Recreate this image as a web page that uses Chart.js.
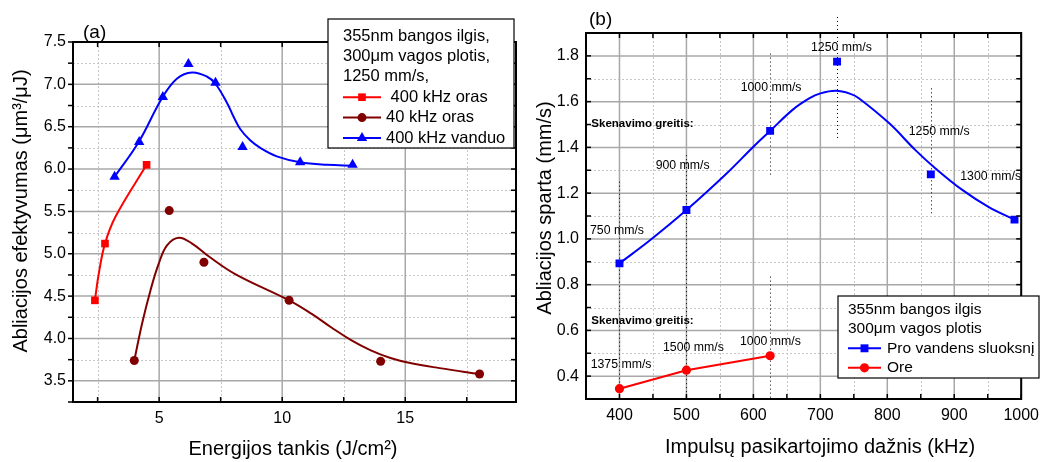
<!DOCTYPE html>
<html>
<head>
<meta charset="utf-8">
<script src="https://cdn.jsdelivr.net/npm/chart.js@4.4.0/dist/chart.umd.min.js"></script>
<style>
  html, body { margin: 0; padding: 0; background: #fff; }
  .panel { position: absolute; top: 0; height: 462px; }
  #panel-a { left: 0; width: 530px; }
  #panel-b { left: 530px; width: 516px; }
</style>
</head>
<body>
<div class="panel" id="panel-a"><canvas id="chart-a"></canvas></div>
<div class="panel" id="panel-b"><canvas id="chart-b"></canvas></div>
<script>
const FONT = "Arial, 'Liberation Sans', sans-serif";

// ---- (a) ablation efficiency vs energy density
const energyTicks = [5, 10, 15];
const energyMinor = [2.5, 7.5, 12.5, 17.5];
const effTicks = [3.5, 4.0, 4.5, 5.0, 5.5, 6.0, 6.5, 7.0, 7.5];
const effMinor = [3.25, 3.75, 4.25, 4.75, 5.25, 5.75, 6.25, 6.75, 7.25];

const seriesNamesA = [' 400 kHz oras', '40 kHz oras', '400 kHz vanduo'];
const legendNoteA = ['355nm bangos ilgis,', '300μm vagos plotis,', '1250 mm/s,'];

const air400Energy = [2.39, 2.80, 4.49];
const air400Eff = [4.45, 5.12, 6.05];
const air400FitEnergy = [2.39, 2.55, 2.80, 3.23, 4.49];
const air400FitEff = [4.45, 4.77, 5.12, 5.44, 6.05];

const air40Energy = [3.99, 5.41, 6.82, 10.28, 14.0, 18.02];
const air40Eff = [3.74, 5.51, 4.90, 4.45, 3.73, 3.58];
const air40FitEnergy = [3.99, 4.31, 4.65, 4.98, 5.32, 5.8, 6.34, 7.01, 8.09, 10.28, 11.2, 12.0, 12.8, 13.6, 14.4, 15.2, 16.4, 18.02];
const air40FitEff = [3.74, 4.18, 4.57, 4.88, 5.10, 5.19, 5.12, 4.97, 4.76, 4.45, 4.29, 4.13, 3.98, 3.86, 3.77, 3.71, 3.65, 3.58];

const water400Energy = [3.19, 4.19, 5.15, 6.19, 7.29, 8.39, 10.73, 12.86];
const water400Eff = [5.91, 6.32, 6.85, 7.24, 7.02, 6.26, 6.08, 6.05];
const water400FitEnergy = [3.19, 4.17, 5.12, 5.73, 6.34, 6.95, 7.28, 7.76, 8.02, 8.3, 8.7, 9.11, 9.78, 10.73, 11.81, 12.89];
const water400FitEff = [5.91, 6.32, 6.84, 7.07, 7.14, 7.09, 7.01, 6.78, 6.62, 6.47, 6.34, 6.25, 6.15, 6.08, 6.05, 6.04];

// ---- (b) ablation rate vs repetition rate
const freqTicks = [400, 500, 600, 700, 800, 900, 1000];
const freqMinor = [350, 450, 550, 650, 750, 850, 950];
const rateTicks = [0.4, 0.6, 0.8, 1.0, 1.2, 1.4, 1.6, 1.8];
const rateMinor = [0.3, 0.5, 0.7, 0.9, 1.1, 1.3, 1.5, 1.7, 1.9];

const seriesNamesB = ['Pro vandens sluoksnį', 'Ore'];
const legendNoteB = ['355nm bangos ilgis', '300μm vagos plotis'];

const waterFreq = [400, 500, 625, 725, 865, 990];
const waterRate = [0.893, 1.126, 1.472, 1.775, 1.282, 1.084];
const waterFitFreq = [400, 446, 500, 560, 600, 625, 659, 684, 699, 723, 745, 758, 803, 842, 872, 912, 951, 990];
const waterFitRate = [0.893, 0.995, 1.126, 1.286, 1.403, 1.472, 1.565, 1.615, 1.635, 1.647, 1.634, 1.614, 1.505, 1.388, 1.308, 1.214, 1.14, 1.084];

const airFreq = [400, 500, 625];
const airRate = [0.345, 0.426, 0.489];

// scan speed notes: text, freq, rate (left edge / middle of text)
const speedNotes = [
    ['Skenavimo greitis:', 358, 1.505, true],
    ['750 mm/s', 356, 1.035],
    ['900 mm/s', 454, 1.32],
    ['1000 mm/s', 581, 1.66],
    ['1250 mm/s', 686, 1.838],
    ['1250 mm/s', 832, 1.468],
    ['1300 mm/s', 909, 1.272],
    ['Skenavimo greitis:', 358, 0.643, true],
    ['1375 mm/s', 357, 0.449],
    ['1500 mm/s', 465, 0.524],
    ['1000 mm/s', 580, 0.551],
];
// dotted guide lines: freq, from rate, to rate
const speedGuides = [
    [400, 1.25, 0.3],
    [500, 1.366, 0.3],
    [625, 1.81, 1.27],
    [625, 0.835, 0.3],
    [725, 1.97, 1.43],
    [865, 1.658, 1.112],
];

const pts = (xs, ys) => xs.map((x, i) => ({ x, y: ys[i] }));

function seg(ctx, x0, y0, x1, y1) {
    ctx.beginPath();
    ctx.moveTo(x0, y0);
    ctx.lineTo(x1, y1);
    ctx.stroke();
}

function drawMarker(ctx, style, x, y, r, color) {
    ctx.fillStyle = color;
    ctx.beginPath();
    if (style === 'rect') {
        const s = r * Math.SQRT1_2;
        ctx.rect(x - s, y - s, 2 * s, 2 * s);
    } else if (style === 'triangle') {
        ctx.moveTo(x, y - r);
        ctx.lineTo(x + r * 0.866, y + r * 0.5);
        ctx.lineTo(x - r * 0.866, y + r * 0.5);
        ctx.closePath();
    } else {
        ctx.arc(x, y, r, 0, Math.PI * 2);
    }
    ctx.fill();
}

function drawLegend(ctx, L) {
    const [bx, by, bw, bh] = L.box;
    ctx.fillStyle = '#fff';
    ctx.fillRect(bx, by, bw, bh);
    ctx.strokeStyle = '#000';
    ctx.lineWidth = 1.2;
    ctx.strokeRect(bx, by, bw, bh);
    ctx.font = `${L.fontSize}px ${FONT}`;
    ctx.textAlign = 'left';
    ctx.textBaseline = 'middle';
    ctx.fillStyle = '#000';
    L.note.forEach((t, i) => ctx.fillText(t, L.textX, L.rowY + i * L.rowH));
    L.items.forEach((it, j) => {
        const yy = L.rowY + (L.note.length + j) * L.rowH;
        ctx.strokeStyle = it.color;
        ctx.lineWidth = 2;
        seg(ctx, L.textX, yy, L.textX + L.sampleW, yy);
        drawMarker(ctx, it.style, L.textX + L.sampleW / 2, yy, it.radius, it.color);
        ctx.fillStyle = '#000';
        ctx.fillText(it.label, L.labelX, yy);
    });
}

function panelDecor(cfg) {
    return {
        id: 'panelDecor',
        beforeDatasetsDraw(chart) {
            const { ctx, chartArea: a, scales: { x, y } } = chart;
            ctx.save();
            ctx.lineWidth = 1;
            ctx.strokeStyle = '#c6c6c6';
            ctx.setLineDash([2, 2]);
            cfg.xMinor.forEach((v) => { const p = Math.round(x.getPixelForValue(v)) + 0.5; seg(ctx, p, a.top, p, a.bottom); });
            cfg.yMinor.forEach((v) => { const p = Math.round(y.getPixelForValue(v)) + 0.5; seg(ctx, a.left, p, a.right, p); });
            ctx.setLineDash([]);
            ctx.strokeStyle = '#a8a8a8';
            ctx.lineWidth = 1.5;
            cfg.xMajor.forEach((v) => { const p = x.getPixelForValue(v); seg(ctx, p, a.top, p, a.bottom); });
            cfg.yMajor.forEach((v) => { const p = y.getPixelForValue(v); seg(ctx, a.left, p, a.right, p); });
            if (cfg.guides) {
                ctx.strokeStyle = '#000';
                ctx.lineWidth = 1;
                ctx.setLineDash([1, 3]);
                cfg.guides.forEach(([f, r0, r1]) => {
                    const p = Math.round(x.getPixelForValue(f)) + 0.5;
                    seg(ctx, p, y.getPixelForValue(r0), p, y.getPixelForValue(r1));
                });
                ctx.setLineDash([]);
            }
            ctx.restore();
        },
        afterDatasetsDraw(chart) {
            const { ctx, chartArea: a, scales: { x, y } } = chart;
            ctx.save();
            // frame + ticks
            ctx.strokeStyle = '#000';
            ctx.lineWidth = 2;
            ctx.strokeRect(a.left, a.top, a.right - a.left, a.bottom - a.top);
            ctx.lineWidth = 1.5;
            const tl = 5;
            [...cfg.xMajor, ...cfg.xMinor].forEach((v) => {
                const p = x.getPixelForValue(v);
                seg(ctx, p, a.bottom, p, a.bottom - tl);
                seg(ctx, p, a.top, p, a.top + tl);
            });
            [...cfg.yMajor, ...cfg.yMinor].forEach((v) => {
                const p = y.getPixelForValue(v);
                seg(ctx, a.right, p, a.right - tl, p);
                if (cfg.leftOut) seg(ctx, a.left, p, a.left - tl, p);
                else seg(ctx, a.left, p, a.left + tl, p);
            });
            // notes
            if (cfg.notes) {
                ctx.fillStyle = '#000';
                ctx.textAlign = 'left';
                ctx.textBaseline = 'middle';
                cfg.notes.forEach(([t, f, r, bold]) => {
                    ctx.font = bold ? `bold 11.5px ${FONT}` : `12.3px ${FONT}`;
                    ctx.fillText(t, x.getPixelForValue(f), y.getPixelForValue(r));
                });
            }
            // panel tag and axis titles
            ctx.fillStyle = '#000';
            ctx.textBaseline = 'middle';
            ctx.textAlign = 'left';
            ctx.font = `19px ${FONT}`;
            ctx.fillText(cfg.tag[0], cfg.tag[1], cfg.tag[2]);
            ctx.textAlign = 'center';
            ctx.font = `20px ${FONT}`;
            ctx.fillText(cfg.xTitle[0], cfg.xTitle[1], cfg.xTitle[2]);
            ctx.save();
            ctx.translate(cfg.yTitle[1], cfg.yTitle[2]);
            ctx.rotate(-Math.PI / 2);
            ctx.fillText(cfg.yTitle[0], 0, 0);
            ctx.restore();
            drawLegend(ctx, cfg.legend);
            ctx.restore();
        },
    };
}

function axis(min, max, ticks, fmt, fitSize, horizontal) {
    return {
        type: 'linear',
        min,
        max,
        afterBuildTicks: (s) => { s.ticks = ticks.map((v) => ({ value: v })); },
        afterFit: (s) => { if (horizontal) s.height = fitSize; else s.width = fitSize; },
        grid: { display: false, drawTicks: false },
        border: { display: false },
        ticks: { color: '#000', font: { family: FONT, size: 16 }, padding: 7, callback: fmt },
    };
}

const baseOptions = (scales, padding) => ({
    responsive: true,
    maintainAspectRatio: false,
    animation: false,
    devicePixelRatio: 1,
    layout: { padding },
    plugins: { legend: { display: false }, tooltip: { enabled: false } },
    scales,
});

const fitLine = (data, color) => ({
    data, showLine: true, borderColor: color, borderWidth: 2, pointRadius: 0,
    tension: 0.4, order: 1,
});
const markers = (data, color, style, radius) => ({
    data, showLine: false, pointStyle: style, pointRadius: radius,
    backgroundColor: color, borderColor: color, borderWidth: 0, order: 0,
});

new Chart(document.getElementById('chart-a'), {
    type: 'scatter',
    data: {
        datasets: [
            fitLine(pts(air400FitEnergy, air400FitEff), '#ff0000'),
            fitLine(pts(air40FitEnergy, air40FitEff), '#800000'),
            fitLine(pts(water400FitEnergy, water400FitEff), '#0000ff'),
            markers(pts(air400Energy, air400Eff), '#ff0000', 'rect', 5.4),
            markers(pts(air40Energy, air40Eff), '#800000', 'circle', 4.5),
            markers(pts(water400Energy, water400Eff), '#0000ff', 'triangle', 6),
        ],
    },
    options: baseOptions({
        x: axis(1.5, 19.5, energyTicks, (v) => String(v), 60, true),
        y: axis(3.25, 7.5, effTicks, (v) => v.toFixed(1), 73, false),
    }, { top: 42, right: 14, left: 0, bottom: 0 }),
    plugins: [panelDecor({
        xMajor: energyTicks, xMinor: energyMinor, yMajor: effTicks, yMinor: effMinor,
        leftOut: true,
        tag: ['(a)', 83, 33],
        xTitle: ['Energijos tankis (J/cm²)', 293, 449],
        yTitle: ['Abliacijos efektyvumas (μm³/μJ)', 21, 211],
        legend: {
            box: [328, 19, 186, 129], fontSize: 16.5, textX: 343, sampleW: 38, labelX: 386,
            rowY: 36, rowH: 20.4, note: legendNoteA,
            items: [
                { label: seriesNamesA[0], color: '#ff0000', style: 'rect', radius: 5.4 },
                { label: seriesNamesA[1], color: '#800000', style: 'circle', radius: 4.5 },
                { label: seriesNamesA[2], color: '#0000ff', style: 'triangle', radius: 6 },
            ],
        },
    })],
});

new Chart(document.getElementById('chart-b'), {
    type: 'scatter',
    data: {
        datasets: [
            fitLine(pts(waterFitFreq, waterFitRate), '#0000ff'),
            { ...fitLine(pts(airFreq, airRate), '#ff0000'), tension: 0 },
            markers(pts(waterFreq, waterRate), '#0000ff', 'rect', 5.6),
            markers(pts(airFreq, airRate), '#ff0000', 'circle', 4.6),
        ],
    },
    options: baseOptions({
        x: axis(350, 1000, freqTicks, (v) => String(v), 63, true),
        y: axis(0.3, 1.9, rateTicks, (v) => v.toFixed(1), 56, false),
    }, { top: 33, right: 23, left: 0, bottom: 0 }),
    plugins: [panelDecor({
        xMajor: freqTicks, xMinor: freqMinor, yMajor: rateTicks, yMinor: rateMinor,
        leftOut: false,
        guides: speedGuides,
        notes: speedNotes,
        tag: ['(b)', 59, 20],
        xTitle: ['Impulsų pasikartojimo dažnis (kHz)', 290, 447],
        yTitle: ['Abliacijos sparta (mm/s)', 15, 208],
        legend: {
            box: [308, 296, 201, 82], fontSize: 15.5, textX: 318, sampleW: 33, labelX: 357,
            rowY: 309.3, rowH: 19.5, note: legendNoteB,
            items: [
                { label: seriesNamesB[0], color: '#0000ff', style: 'rect', radius: 5.6 },
                { label: seriesNamesB[1], color: '#ff0000', style: 'circle', radius: 4.6 },
            ],
        },
    })],
});
</script>
</body>
</html>
